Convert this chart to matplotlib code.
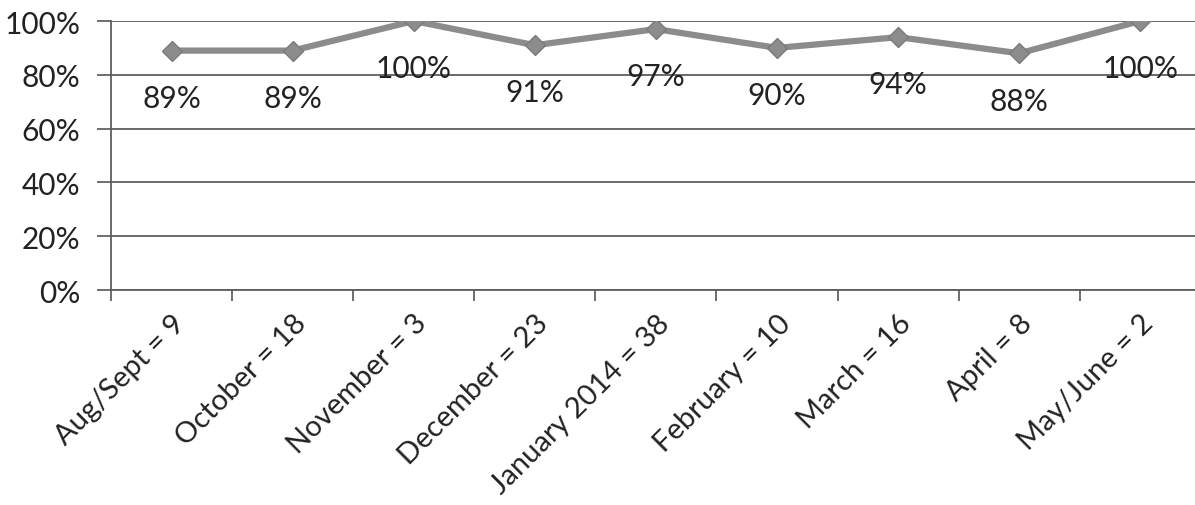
import numpy as np
import matplotlib
matplotlib.use("Agg")
from matplotlib import pyplot as plt
from matplotlib.ticker import FuncFormatter

plt.rcParams['font.family'] = ['Lato', 'DejaVu Sans']

# attendance rate per month, with the number of people in each label
months = ["Aug/Sept = 9", "October = 18", "November = 3", "December = 23",
          "January 2014 = 38", "February = 10", "March = 16", "April = 8",
          "May/June = 2"]
rates = [89, 89, 100, 91, 97, 90, 94, 88, 100]
yticks = [0, 20, 40, 60, 80, 100]

fig = plt.figure(figsize=(11.95, 5.06), dpi=100)
ax = fig.add_axes([0.0929, 0.4249, 0.912, 0.5316])

x = np.arange(len(months))
ax.plot(x, rates, color="#8c8c8c", lw=4.5, marker="D", ms=10,
        mfc="#8c8c8c", mec="#7a7a7a", zorder=3, solid_joinstyle="miter")

for xi, v in zip(x, rates):
    ax.annotate(f"{v}%", (xi, v), xytext=(0, -34), textcoords="offset points",
                ha="center", va="center", fontsize=21.5, color="#222222")

ax.set_xlim(-0.5, len(months) - 0.5)
ax.set_ylim(0, 100)
ax.set_yticks(yticks)
ax.yaxis.set_major_formatter(FuncFormatter(lambda v, p: f"{v:.0f}%"))
ax.set_xticks(np.arange(len(months) + 1) - 0.5, minor=False)
ax.set_xticklabels([])
ax.set_xticks(x, minor=True)
ax.set_xticklabels(months, minor=True, rotation=45, ha="right",
                   rotation_mode="anchor", fontsize=21, color="#222222")
ax.tick_params(axis="x", which="minor", length=0, pad=14)
ax.tick_params(axis="x", which="major", length=8, width=1.2, color="#555555",
               direction="out")
ax.tick_params(axis="y", length=10, width=1.2, color="#555555", pad=12,
               labelsize=21.5, labelcolor="#222222")

ax.grid(axis="y", color="#5e5e5e", lw=1.3)
ax.set_axisbelow(True)
for s in ["top", "right"]:
    ax.spines[s].set_visible(False)
for s in ["left", "bottom"]:
    ax.spines[s].set_color("#5e5e5e")
    ax.spines[s].set_linewidth(1.3)

fig.savefig("out.png", dpi=100)
